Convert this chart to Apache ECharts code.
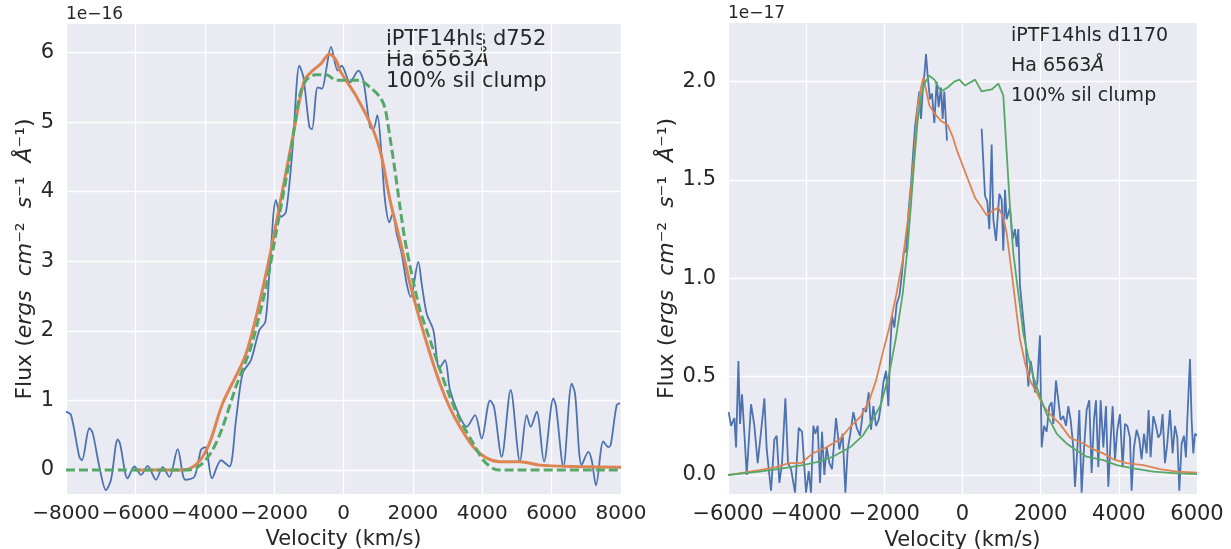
<!DOCTYPE html>
<html>
<head>
<meta charset="utf-8">
<script src="https://cdn.jsdelivr.net/npm/echarts@6/dist/echarts.min.js"></script>
<style>
  html, body { margin: 0; padding: 0; background: #fff; }
  #main { width: 1231px; height: 549px; }
</style>
</head>
<body>
<div id="main"></div>
<script>
// ---- left panel, day 752 (flux in 1e-16) ----
const obs752V = [-8000, -7856, -7616, -7540, -7327, -7230, -7039, -6847, -6703, -6510, -6443, -6222, -6030, -5838, -5645, -5405, -5213, -5021, -4780, -4560, -4300, -4108, -3983, -3790, -3531, -3291, -3099, -2907, -2667, -2426, -2253, -2138, -1946, -1802, -1657, -1465, -1273, -1158, -984, -908, -745, -620, -504, -360, -168, -53, 187, 428, 572, 764, 860, 975, 1100, 1196, 1321, 1417, 1533, 1677, 1821, 1936, 2157, 2253, 2397, 2590, 2763, 2926, 3070, 3311, 3551, 3791, 3984, 4223, 4338, 4560, 4819, 5088, 5280, 5396, 5569, 5780, 6050, 6127, 6338, 6578, 6674, 6866, 7059, 7155, 7280, 7491, 7635, 7703, 7875, 7971];
const obs752F = [0.84, 0.79, 0.19, 0.14, 0.6, 0.53, 0.05, -0.29, -0.14, 0.44, 0.38, -0.12, 0.05, -0.07, 0.06, -0.14, 0.04, -0.1, 0.3, -0.14, -0.1, 0.29, 0.33, -0.12, 0.14, 0.05, 0.72, 1.39, 1.58, 2.01, 2.13, 2.82, 3.88, 3.64, 3.71, 4.64, 5.81, 5.65, 4.93, 4.9, 5.5, 5.48, 5.74, 6.08, 5.74, 5.81, 5.57, 5.74, 5.6, 4.93, 4.9, 5.1, 4.5, 3.88, 3.56, 3.68, 3.4, 3.11, 2.68, 2.49, 2.99, 2.68, 2.25, 2.01, 1.46, 1.58, 1.15, 0.81, 0.62, 0.79, 0.45, 1.0, 0.91, 0.19, 1.15, 0.12, 0.79, 0.62, 0.84, 0.12, 1.03, 0.91, 0.05, 1.24, 1.1, 0.07, 0.26, 0.14, -0.22, 0.41, 0.33, 0.36, 0.93, 0.96];

const fit752V = [-6000, -4600, -4204, -3868, -3483, -2811, -2234, -1850, -1465, -1129, -889, -648, -408, -216, -101, 380, 860, 1100, 1340, 1629, 1917, 2205, 2494, 2782, 3070, 3359, 3743, 4127, 4511, 5088, 5664, 6626, 8000];
const fit752F = [0, 0, 0.1, 0.38, 0.96, 1.67, 2.82, 3.78, 4.78, 5.6, 5.74, 5.84, 5.98, 5.89, 5.74, 5.36, 4.88, 4.5, 3.88, 3.3, 2.68, 2.15, 1.67, 1.24, 0.89, 0.62, 0.33, 0.17, 0.12, 0.12, 0.07, 0.05, 0.04];

const mod752V = [-8000, -4444, -4100, -3772, -3483, -3099, -2667, -2234, -1946, -1561, -1273, -1081, -800, -500, -200, 280, 475, 764, 1052, 1196, 1340, 1485, 1629, 1773, 1965, 2205, 2494, 2782, 3070, 3359, 3743, 4031, 4319, 4511, 8000];
const mod752F = [0, 0, 0.08, 0.29, 0.62, 1.2, 1.77, 2.63, 3.4, 4.45, 5.36, 5.6, 5.68, 5.68, 5.6, 5.6, 5.6, 5.5, 5.36, 5.2, 4.78, 4.3, 3.78, 3.3, 2.82, 2.3, 1.87, 1.44, 1.05, 0.72, 0.38, 0.14, 0.02, 0, 0];

// ---- right panel, day 1170 (flux in 1e-17) ----
const obs1170V = [-5982, -5922, -5837, -5794, -5734, -5692, -5641, -5581, -5521, -5470, -5410, -5325, -5240, -5155, -5069, -5010, -4967, -4899, -4814, -4754, -4686, -4618, -4532, -4464, -4387, -4285, -4191, -4106, -4003, -3935, -3876, -3816, -3765, -3705, -3645, -3594, -3535, -3475, -3407, -3339, -3236, -3151, -3066, -2997, -2938, -2878, -2793, -2707, -2622, -2537, -2469, -2400, -2341, -2281, -2213, -2145, -2085, -2025, -1957, -1897, -1846, -1804, -1744, -1684, -1616, -1556, -1505, -1445, -1377, -1317, -1275, -1215, -1173, -1104, -1062, -1019, -977, -934, -891, -832, -781, -721, -661, -610, -550, -508, -465, -422, -397,
  0,
  490, 576, 635, 686, 746, 789, 857, 891, 942, 1002, 1044, 1087, 1130, 1172, 1215, 1283, 1343, 1386, 1428, 1471, 1514, 1556, 1624, 1684, 1744, 1795, 1855, 1914, 1982, 2025, 2085, 2153, 2221, 2281, 2324, 2392, 2452, 2511, 2579, 2648, 2707, 2767, 2835, 2878, 2937, 2989, 3048, 3108, 3176, 3244, 3304, 3364, 3415, 3475, 3535, 3603, 3671, 3731, 3790, 3842, 3901, 3961, 4029, 4097, 4157, 4217, 4285, 4327, 4387, 4455, 4524, 4583, 4643, 4711, 4762, 4813, 4882, 4950, 5010, 5069, 5120, 5180, 5240, 5308, 5376, 5436, 5496, 5547, 5607, 5666, 5717, 5752, 5820, 5862, 5905, 5948, 5995];
const obs1170F = [0.32, 0.25, 0.29, 0.14, 0.58, 0.26, 0.41, 0.21, 0.0, -0.01, 0.36, 0.25, 0.06, 0.22, 0.39, 0.13, 0.13, -0.08, 0.18, 0.2, -0.04, 0.06, 0.39, 0.06, 0.03, -0.09, 0.24, 0.22, -0.09, 0.02, -0.09, 0.25, 0.21, 0.25, -0.04, 0.22, 0.0, 0.14, 0.06, 0.03, 0.29, 0.13, 0.21, -0.09, 0.13, 0.2, 0.32, 0.24, 0.2, 0.34, 0.32, 0.42, 0.23, 0.35, 0.25, 0.28, 0.36, 0.47, 0.53, 0.35, 0.65, 0.81, 0.75, 0.87, 0.91, 1.01, 1.13, 1.14, 1.35, 1.48, 1.6, 1.77, 1.78, 1.95, 1.81, 1.95, 2.03, 2.14, 2.03, 1.91, 1.94, 1.79, 2.0, 1.87, 1.97, 1.81, 1.95, 1.79, 1.7,
  null,
  1.76, 1.42, 1.39, 1.25, 1.68, 1.3, 1.19, 1.18, 1.43, 1.4, 1.14, 1.45, 1.3, 1.33, 1.36, 1.2, 1.25, 1.16, 1.25, 0.96, 0.96, 0.79, 0.65, 0.45, 0.58, 0.52, 0.42, 0.47, 0.71, 0.14, 0.25, 0.22, 0.35, 0.37, 0.26, 0.48, 0.38, 0.28, 0.3, 0.25, 0.35, 0.28, 0.14, -0.06, 0.13, 0.33, -0.09, 0.13, 0.33, 0.38, 0.01, 0.28, 0.38, 0.04, 0.38, 0.14, 0.35, -0.06, 0.18, 0.35, 0.08, 0.23, 0.31, 0.04, 0.26, 0.25, 0.19, -0.08, 0.14, 0.23, 0.18, 0.08, 0.21, 0.11, 0.33, 0.09, 0.3, 0.25, 0.19, 0.21, 0.31, 0.06, 0.16, 0.33, 0.11, 0.25, 0.19, -0.08, 0.16, 0.2, 0.09, 0.28, 0.59, 0.28, 0.11, 0.21, 0.2];

const fit1170V = [-6000, -5197, -4771, -4430, -4131, -3833, -3492, -3151, -2895, -2597, -2383, -2213, -2042, -1872, -1701, -1531, -1360, -1232, -1147, -1062, -1002, -934, -849, -721, -550, -380, -252, -124, 107, 320, 490, 618, 746, 917, 1044, 1130, 1258, 1386, 1471, 1599, 1727, 1897, 2068, 2281, 2494, 2750, 3091, 3347, 3603, 3859, 4200, 4626, 5052, 5479, 6000];
const fit1170F = [0.0, 0.025, 0.04, 0.06, 0.06, 0.11, 0.14, 0.18, 0.24, 0.3, 0.38, 0.48, 0.62, 0.75, 0.91, 1.09, 1.36, 1.64, 1.87, 1.97, 2.02, 1.96, 1.88, 1.84, 1.8, 1.78, 1.72, 1.64, 1.52, 1.41, 1.36, 1.32, 1.34, 1.36, 1.31, 1.23, 1.03, 0.82, 0.69, 0.57, 0.48, 0.42, 0.35, 0.3, 0.26, 0.19, 0.16, 0.13, 0.11, 0.08, 0.06, 0.05, 0.03, 0.017, 0.012];

const mod1170V = [-6000, -5197, -4600, -4089, -3663, -3321, -2853, -2554, -2298, -2085, -1872, -1701, -1531, -1403, -1317, -1232, -1147, -1062, -977, -849, -721, -550, -380, -209, -81, 64, 320, 490, 746, 917, 1044, 1130, 1215, 1300, 1386, 1471, 1556, 1684, 1812, 1982, 2153, 2409, 2665, 2878, 3176, 3603, 3944, 4370, 4882, 5479, 6000];
const mod1170F = [0.0, 0.017, 0.034, 0.05, 0.068, 0.093, 0.144, 0.2, 0.28, 0.36, 0.52, 0.7, 0.92, 1.16, 1.38, 1.6, 1.8, 1.92, 1.99, 2.03, 2.01, 1.95, 1.97, 2.0, 2.01, 1.98, 2.01, 1.95, 1.96, 1.99, 1.93, 1.64, 1.36, 1.13, 0.99, 0.86, 0.72, 0.6, 0.5, 0.4, 0.31, 0.21, 0.16, 0.13, 0.093, 0.076, 0.05, 0.034, 0.017, 0.008, 0.005];

const xTicksLeft = [-8000, -6000, -4000, -2000, 0, 2000, 4000, 6000, 8000];
const xTicksRight = [-6000, -4000, -2000, 0, 2000, 4000, 6000];
const yTicksLeft = [0, 1, 2, 3, 4, 5, 6];
const yTicksRight = [0, 0.5, 1.0, 1.5, 2.0];

const FONT = "DejaVu Sans";
const INK = "#262626";
const BLUE = "#4C72B0", ORANGE = "#DD8452", GREEN = "#55A868";

function pairs(v, f) {
  return v.map((x, i) => [x, f[i] === null ? "-" : f[i]]);
}
const minus = (s) => String(s).replace("-", "\u2212");

const fluxName =
  "{n|Flux (}{i|ergs}{n|  }{i|cm}{n|\u207B\u00B2  }{i|s}{n|\u207B\u00B9  }{i|\u00C5}{n|\u207B\u00B9)}";
const nameRich = {
  n: { fontFamily: FONT, fontSize: 22, color: INK },
  i: { fontFamily: FONT, fontSize: 22, color: INK, fontStyle: "italic" },
};

function xAxisFor(idx, ticks, gap, size) {
  return {
    gridIndex: idx, type: "value", min: ticks[0], max: ticks[ticks.length - 1],
    name: "Velocity (km/s)", nameLocation: "middle", nameGap: gap,
    nameTextStyle: { fontFamily: FONT, fontSize: 21, color: INK },
    axisLine: { show: false },
    axisTick: { show: false, customValues: ticks },
    axisLabel: {
      fontFamily: FONT, fontSize: size, color: INK, margin: 10,
      customValues: ticks, showMinLabel: true, showMaxLabel: true, hideOverlap: false,
      formatter: (v) => minus(v),
    },
    splitLine: { show: true, lineStyle: { color: "#ffffff", width: 1.3 } },
  };
}
function yAxisFor(idx, min, max, ticks, gap, fmt) {
  return {
    gridIndex: idx, type: "value", min: min, max: max,
    name: fluxName, nameLocation: "middle", nameGap: gap,
    nameTextStyle: { fontFamily: FONT, fontSize: 22, color: INK, rich: nameRich },
    axisLine: { show: false },
    axisTick: { show: false, customValues: ticks },
    axisLabel: { fontFamily: FONT, fontSize: 21, color: INK, margin: 12, customValues: ticks, formatter: fmt },
    splitLine: { show: true, lineStyle: { color: "#ffffff", width: 1.3 } },
  };
}
function line(name, xi, data, color, width, extra) {
  return Object.assign({
    name: name, type: "line", xAxisIndex: xi, yAxisIndex: xi, data: data,
    showSymbol: false, symbol: "none", silent: true,
    lineStyle: { color: color, width: width }, itemStyle: { color: color },
  }, extra || {});
}

const chart = echarts.init(document.getElementById("main"), null, { renderer: "canvas" });
chart.setOption({
  animation: false,
  backgroundColor: "#ffffff",
  grid: [
    { left: 66, top: 24, width: 555, height: 470, show: true, backgroundColor: "#EAEAF2", borderWidth: 0, containLabel: false, outerBoundsMode: "none" },
    { left: 728, top: 23, width: 469, height: 471, show: true, backgroundColor: "#EAEAF2", borderWidth: 0, containLabel: false, outerBoundsMode: "none" },
  ],
  xAxis: [xAxisFor(0, xTicksLeft, 34, 20), xAxisFor(1, xTicksRight, 32, 21)],
  yAxis: [
    yAxisFor(0, -0.345, 6.41, yTicksLeft, 30, (v) => minus(v)),
    yAxisFor(1, -0.0965, 2.298, yTicksRight, 50, (v) => minus(v.toFixed(1))),
  ],
  series: [
    line("obs752", 0, pairs(obs752V, obs752F), BLUE, 1.8, { smooth: 0.3 }),
    line("fit752", 0, pairs(fit752V, fit752F), ORANGE, 3, { smooth: 0.3 }),
    line("mod752", 0, pairs(mod752V, mod752F), GREEN, 3, { smooth: 0.3, lineStyle: { color: GREEN, width: 3, type: [9, 4] } }),
    line("obs1170", 1, pairs(obs1170V, obs1170F), BLUE, 1.8),
    line("fit1170", 1, pairs(fit1170V, fit1170F), ORANGE, 1.8),
    line("mod1170", 1, pairs(mod1170V, mod1170F), GREEN, 1.8),
  ],
  graphic: [
    { type: "text", left: 66, top: 6, style: { text: "1e\u221216", font: "17px 'DejaVu Sans'", fill: INK } },
    { type: "text", left: 728, top: 5, style: { text: "1e\u221217", font: "17px 'DejaVu Sans'", fill: INK } },
    {
      type: "text", left: 386, top: 29,
      style: {
        text: "iPTF14hls d752\n{n|Ha 6563}{i|\u00C5}\n100% sil clump",
        font: "21px 'DejaVu Sans'", fill: INK, lineHeight: 21,
        rich: { n: { fontFamily: FONT, fontSize: 21, fill: INK, lineHeight: 21 }, i: { fontFamily: FONT, fontSize: 21, fill: INK, fontStyle: "italic", lineHeight: 21 } },
      },
    },
    {
      type: "text", left: 1011, top: 21,
      style: {
        text: "iPTF14hls d1170\n{n|Ha 6563}{i|\u00C5}\n100% sil clump",
        font: "19px 'DejaVu Sans'", fill: INK, lineHeight: 30,
        rich: { n: { fontFamily: FONT, fontSize: 19, fill: INK, lineHeight: 30 }, i: { fontFamily: FONT, fontSize: 19, fill: INK, fontStyle: "italic", lineHeight: 30 } },
      },
    },
  ],
});
</script>
</body>
</html>
